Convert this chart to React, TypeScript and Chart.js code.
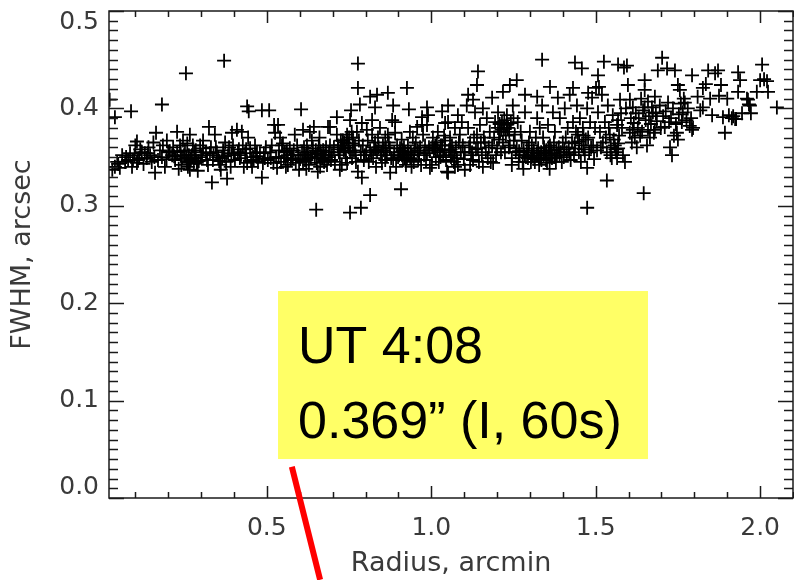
import React, { useEffect, useRef } from 'react';
import { Chart, registerables } from 'chart.js';

Chart.register(...registerables);

// [radius (arcmin), FWHM (arcsec)] pairs, grouped by radius range
const pointsR00: number[][] = [
  [0.022, 0.409], [0.03, 0.337], [0.038, 0.34], [0.038, 0.391], [0.045, 0.345], [0.053, 0.339],
  [0.06, 0.352], [0.069, 0.345], [0.078, 0.347], [0.084, 0.354], [0.087, 0.397], [0.093, 0.347],
  [0.1, 0.362], [0.105, 0.344], [0.105, 0.366], [0.108, 0.347], [0.09, 0.34],
  [0.115, 0.358], [0.12, 0.355], [0.129, 0.354], [0.135, 0.349], [0.14, 0.36], [0.145, 0.352],
  [0.15, 0.345], [0.155, 0.365], [0.16, 0.334], [0.163, 0.375], [0.169, 0.347], [0.175, 0.357],
  [0.181, 0.35], [0.181, 0.404], [0.184, 0.362], [0.19, 0.34], [0.196, 0.367], [0.2, 0.355],
  [0.125, 0.343], [0.195, 0.348],
];
const pointsR02: number[][] = [
  [0.212, 0.352], [0.215, 0.36], [0.221, 0.347], [0.227, 0.355], [0.227, 0.376], [0.232, 0.338],
  [0.236, 0.362], [0.242, 0.349], [0.245, 0.367], [0.251, 0.357], [0.254, 0.436], [0.257, 0.345],
  [0.26, 0.34], [0.263, 0.352], [0.266, 0.337], [0.266, 0.373], [0.272, 0.352], [0.275, 0.362],
  [0.278, 0.343], [0.281, 0.349], [0.284, 0.357], [0.287, 0.344], [0.29, 0.336], [0.297, 0.362],
  [0.3, 0.35], [0.303, 0.352], [0.306, 0.359], [0.306, 0.367], [0.248, 0.352], [0.269, 0.347],
  [0.258, 0.364], [0.24, 0.342],
  [0.318, 0.347], [0.321, 0.342], [0.324, 0.381], [0.327, 0.354], [0.333, 0.324], [0.336, 0.347],
  [0.342, 0.373], [0.345, 0.36], [0.348, 0.355], [0.352, 0.35], [0.358, 0.342], [0.364, 0.349],
  [0.367, 0.357], [0.37, 0.449], [0.373, 0.365], [0.376, 0.345], [0.379, 0.328], [0.382, 0.352],
  [0.385, 0.36], [0.39, 0.34], [0.394, 0.375], [0.397, 0.362], [0.4, 0.352], [0.403, 0.347],
  [0.33, 0.36], [0.36, 0.337],
];
const pointsR04: number[][] = [
  [0.409, 0.378], [0.412, 0.355], [0.418, 0.349], [0.424, 0.376], [0.427, 0.362], [0.434, 0.354],
  [0.44, 0.344], [0.44, 0.402], [0.443, 0.37], [0.445, 0.397], [0.449, 0.359], [0.455, 0.34],
  [0.458, 0.35], [0.464, 0.362], [0.47, 0.355], [0.473, 0.345], [0.479, 0.354], [0.485, 0.329],
  [0.485, 0.398], [0.488, 0.344], [0.494, 0.349], [0.497, 0.36], [0.43, 0.34], [0.46, 0.347],
  [0.415, 0.358],
  [0.503, 0.347], [0.507, 0.398], [0.51, 0.355], [0.515, 0.362], [0.522, 0.383], [0.525, 0.375],
  [0.528, 0.35], [0.531, 0.339], [0.534, 0.383], [0.537, 0.357], [0.54, 0.37], [0.543, 0.345],
  [0.546, 0.362], [0.549, 0.364], [0.552, 0.349], [0.555, 0.355], [0.558, 0.34], [0.564, 0.352],
  [0.564, 0.342], [0.57, 0.359], [0.573, 0.347], [0.579, 0.349], [0.582, 0.357], [0.585, 0.373],
  [0.588, 0.344], [0.592, 0.362], [0.595, 0.352], [0.598, 0.337], [0.52, 0.344],
];
const pointsR06: number[][] = [
  [0.604, 0.399], [0.607, 0.355], [0.61, 0.378], [0.61, 0.345], [0.613, 0.36], [0.616, 0.347],
  [0.619, 0.352], [0.622, 0.362], [0.625, 0.355], [0.628, 0.342], [0.631, 0.376], [0.634, 0.35],
  [0.637, 0.367], [0.64, 0.359], [0.643, 0.381], [0.646, 0.349], [0.649, 0.357], [0.65, 0.296],
  [0.652, 0.344], [0.655, 0.354], [0.655, 0.335], [0.658, 0.362], [0.662, 0.34], [0.665, 0.352],
  [0.668, 0.349], [0.671, 0.357], [0.674, 0.345], [0.677, 0.352], [0.68, 0.36], [0.683, 0.342],
  [0.686, 0.381], [0.689, 0.355], [0.692, 0.362], [0.692, 0.381], [0.695, 0.347], [0.698, 0.352],
  [0.62, 0.338], [0.66, 0.37],
  [0.704, 0.36], [0.707, 0.345], [0.713, 0.373], [0.713, 0.391], [0.716, 0.362], [0.719, 0.355],
  [0.722, 0.352], [0.722, 0.337], [0.725, 0.367], [0.728, 0.342], [0.731, 0.367], [0.734, 0.357],
  [0.737, 0.359], [0.74, 0.349], [0.744, 0.373], [0.744, 0.344], [0.747, 0.364], [0.75, 0.37],
  [0.753, 0.355], [0.753, 0.388], [0.753, 0.293], [0.756, 0.398], [0.759, 0.349], [0.762, 0.37],
  [0.765, 0.357], [0.768, 0.362], [0.771, 0.345], [0.774, 0.376], [0.777, 0.335], [0.777, 0.446],
  [0.777, 0.421], [0.78, 0.367], [0.783, 0.404], [0.786, 0.298], [0.786, 0.355], [0.789, 0.385],
  [0.789, 0.329], [0.792, 0.362], [0.795, 0.347], [0.798, 0.352], [0.735, 0.365], [0.758, 0.376],
  [0.77, 0.352],
];
const pointsR08: number[][] = [
  [0.804, 0.378], [0.807, 0.367], [0.81, 0.345], [0.814, 0.357], [0.814, 0.412], [0.814, 0.311],
  [0.82, 0.373], [0.82, 0.388], [0.823, 0.349], [0.826, 0.36], [0.829, 0.365], [0.829, 0.401],
  [0.832, 0.34], [0.835, 0.355], [0.835, 0.414], [0.838, 0.37], [0.844, 0.38], [0.847, 0.352],
  [0.85, 0.344], [0.853, 0.362], [0.856, 0.357], [0.86, 0.347], [0.865, 0.352], [0.868, 0.373],
  [0.868, 0.416], [0.871, 0.365], [0.874, 0.359], [0.875, 0.334], [0.878, 0.349], [0.881, 0.388],
  [0.884, 0.347], [0.884, 0.403], [0.887, 0.355], [0.89, 0.375], [0.89, 0.386], [0.893, 0.34],
  [0.896, 0.362], [0.84, 0.36], [0.86, 0.37],
  [0.902, 0.352], [0.905, 0.359], [0.908, 0.317], [0.911, 0.352], [0.914, 0.347], [0.917, 0.36],
  [0.92, 0.355], [0.923, 0.342], [0.926, 0.349], [0.926, 0.421], [0.929, 0.362], [0.932, 0.399],
  [0.935, 0.376], [0.938, 0.355], [0.941, 0.352], [0.944, 0.37], [0.947, 0.345], [0.95, 0.359],
  [0.953, 0.365], [0.957, 0.381], [0.96, 0.347], [0.963, 0.355], [0.966, 0.36], [0.969, 0.342],
  [0.972, 0.383], [0.972, 0.391], [0.975, 0.373], [0.978, 0.352], [0.981, 0.362], [0.984, 0.347],
  [0.987, 0.354], [0.987, 0.383], [0.987, 0.401], [0.99, 0.393], [0.993, 0.36], [0.996, 0.339],
  [0.91, 0.368], [0.94, 0.34],
];
const pointsR10: number[][] = [
  [1.002, 0.342], [1.005, 0.37], [1.008, 0.357], [1.011, 0.359], [1.014, 0.35], [1.017, 0.365],
  [1.02, 0.376], [1.023, 0.345], [1.026, 0.355], [1.029, 0.362], [1.033, 0.362], [1.033, 0.397],
  [1.036, 0.352], [1.039, 0.372], [1.042, 0.367], [1.042, 0.385], [1.045, 0.347], [1.048, 0.335],
  [1.051, 0.386], [1.051, 0.403], [1.051, 0.334], [1.054, 0.357], [1.057, 0.37], [1.06, 0.35],
  [1.063, 0.362], [1.066, 0.355], [1.069, 0.345], [1.072, 0.38], [1.072, 0.34], [1.075, 0.36],
  [1.078, 0.349], [1.081, 0.393], [1.081, 0.342], [1.084, 0.365], [1.087, 0.373], [1.09, 0.355],
  [1.093, 0.386], [1.096, 0.362], [1.099, 0.348], [1.102, 0.355], [1.102, 0.337],
  [1.108, 0.403], [1.112, 0.38], [1.112, 0.414], [1.115, 0.36], [1.118, 0.365], [1.118, 0.342],
  [1.121, 0.352], [1.124, 0.355], [1.127, 0.347], [1.127, 0.409], [1.13, 0.37], [1.133, 0.396],
  [1.136, 0.358], [1.139, 0.373], [1.139, 0.424], [1.142, 0.359], [1.142, 0.438], [1.145, 0.345],
  [1.148, 0.383], [1.151, 0.365], [1.154, 0.352], [1.157, 0.4], [1.157, 0.34], [1.16, 0.37],
  [1.163, 0.365], [1.166, 0.355], [1.169, 0.39], [1.172, 0.349], [1.175, 0.36], [1.178, 0.376],
  [1.181, 0.345], [1.185, 0.362], [1.185, 0.411], [1.188, 0.344], [1.191, 0.37], [1.194, 0.386],
  [1.197, 0.352], [1.2, 0.359],
];
const pointsR12: number[][] = [
  [1.203, 0.396], [1.206, 0.368], [1.209, 0.376], [1.212, 0.355], [1.215, 0.386], [1.218, 0.365],
  [1.218, 0.417], [1.221, 0.38], [1.224, 0.355], [1.227, 0.372], [1.23, 0.393], [1.233, 0.38],
  [1.236, 0.36], [1.239, 0.362], [1.239, 0.424], [1.242, 0.385], [1.245, 0.349], [1.245, 0.342],
  [1.248, 0.403], [1.251, 0.367], [1.254, 0.373], [1.257, 0.355], [1.26, 0.359], [1.26, 0.429],
  [1.263, 0.386], [1.266, 0.345], [1.269, 0.352], [1.272, 0.376], [1.275, 0.367], [1.278, 0.345],
  [1.281, 0.357], [1.285, 0.396], [1.285, 0.414], [1.288, 0.35], [1.291, 0.359], [1.294, 0.349],
  [1.297, 0.365], [1.3, 0.376], [1.28, 0.338], [1.25, 0.39],
  [1.303, 0.345], [1.306, 0.362], [1.309, 0.352], [1.312, 0.357], [1.315, 0.345], [1.318, 0.37],
  [1.322, 0.39], [1.322, 0.412], [1.325, 0.359], [1.328, 0.342], [1.331, 0.349], [1.334, 0.355],
  [1.337, 0.403], [1.337, 0.45], [1.34, 0.37], [1.343, 0.36], [1.346, 0.355], [1.349, 0.347],
  [1.352, 0.344], [1.355, 0.383], [1.358, 0.352], [1.361, 0.362], [1.361, 0.422], [1.364, 0.357],
  [1.367, 0.349], [1.37, 0.396], [1.373, 0.365], [1.376, 0.376], [1.379, 0.345], [1.382, 0.352],
  [1.385, 0.411], [1.388, 0.36], [1.391, 0.39], [1.394, 0.355], [1.397, 0.345], [1.4, 0.365],
  [1.33, 0.38], [1.36, 0.338],
];
const pointsR14: number[][] = [
  [1.403, 0.35], [1.406, 0.4], [1.409, 0.37], [1.412, 0.355], [1.415, 0.38], [1.418, 0.36],
  [1.421, 0.414], [1.424, 0.347], [1.428, 0.365], [1.431, 0.386], [1.431, 0.421], [1.434, 0.352],
  [1.437, 0.359], [1.437, 0.447], [1.44, 0.376], [1.443, 0.403], [1.446, 0.373], [1.449, 0.355],
  [1.452, 0.39], [1.455, 0.345], [1.458, 0.362], [1.458, 0.441], [1.461, 0.38], [1.464, 0.358],
  [1.467, 0.352], [1.47, 0.368], [1.474, 0.4], [1.474, 0.339], [1.474, 0.298], [1.477, 0.37],
  [1.477, 0.416], [1.48, 0.355], [1.483, 0.386], [1.486, 0.36], [1.489, 0.411], [1.492, 0.362],
  [1.495, 0.348], [1.498, 0.38],
  [1.501, 0.421], [1.504, 0.357], [1.507, 0.396], [1.507, 0.434], [1.51, 0.422], [1.513, 0.376],
  [1.516, 0.36], [1.519, 0.414], [1.522, 0.365], [1.525, 0.448], [1.528, 0.386], [1.531, 0.37],
  [1.534, 0.355], [1.534, 0.326], [1.537, 0.403], [1.54, 0.38], [1.543, 0.373], [1.546, 0.36],
  [1.549, 0.349], [1.552, 0.393], [1.555, 0.368], [1.558, 0.362], [1.562, 0.355], [1.565, 0.383],
  [1.565, 0.349], [1.568, 0.445], [1.568, 0.388], [1.568, 0.364], [1.568, 0.359], [1.571, 0.372],
  [1.574, 0.409], [1.577, 0.395], [1.58, 0.38], [1.583, 0.352], [1.586, 0.442], [1.589, 0.345],
  [1.592, 0.4], [1.595, 0.444], [1.598, 0.424],
];
const pointsR16: number[][] = [
  [1.604, 0.409], [1.604, 0.375], [1.607, 0.39], [1.61, 0.365], [1.613, 0.401], [1.613, 0.378],
  [1.616, 0.385], [1.619, 0.37], [1.622, 0.395], [1.625, 0.36], [1.628, 0.38], [1.631, 0.39],
  [1.635, 0.372], [1.638, 0.41], [1.641, 0.376], [1.644, 0.398], [1.646, 0.313], [1.649, 0.429],
  [1.649, 0.419], [1.649, 0.401], [1.652, 0.388], [1.656, 0.362], [1.659, 0.407], [1.659, 0.378],
  [1.662, 0.392], [1.665, 0.37], [1.668, 0.384], [1.671, 0.401], [1.674, 0.396], [1.677, 0.375],
  [1.68, 0.412], [1.68, 0.378], [1.683, 0.395], [1.686, 0.387], [1.689, 0.439], [1.695, 0.403],
  [1.698, 0.38],
  [1.702, 0.452], [1.705, 0.392], [1.71, 0.381], [1.713, 0.397], [1.717, 0.441], [1.72, 0.406],
  [1.723, 0.386], [1.726, 0.36], [1.729, 0.39], [1.732, 0.352], [1.735, 0.4], [1.738, 0.372],
  [1.741, 0.439], [1.744, 0.384], [1.747, 0.375], [1.75, 0.424], [1.75, 0.368], [1.753, 0.394],
  [1.756, 0.419], [1.759, 0.405], [1.762, 0.386], [1.765, 0.396], [1.768, 0.41], [1.771, 0.406],
  [1.776, 0.388], [1.78, 0.4], [1.786, 0.382], [1.79, 0.39], [1.793, 0.434], [1.793, 0.378],
  [1.796, 0.38],
];
const pointsR18: number[][] = [
  [1.81, 0.412], [1.818, 0.398], [1.826, 0.421], [1.826, 0.401], [1.835, 0.425], [1.842, 0.439],
  [1.848, 0.41], [1.854, 0.393], [1.863, 0.436], [1.872, 0.439], [1.875, 0.413], [1.881, 0.424],
  [1.887, 0.391], [1.893, 0.375], [1.9, 0.41], [1.905, 0.393], [1.914, 0.39], [1.918, 0.392],
  [1.924, 0.389], [1.927, 0.389], [1.933, 0.437], [1.933, 0.417], [1.939, 0.429], [1.945, 0.395],
  [1.96, 0.41], [1.963, 0.409], [1.966, 0.404], [1.969, 0.403], [1.972, 0.395], [1.99, 0.417],
  [2.0, 0.429], [2.006, 0.445], [2.012, 0.43], [2.021, 0.428], [2.024, 0.417], [2.051, 0.401],
];
// extra stars in the densest clumps of the band
const pointsDense: number[][] = [
  [0.048, 0.343], [0.072, 0.35], [0.098, 0.352], [0.112, 0.349], [0.138, 0.354], [0.158, 0.35],
  [0.205, 0.356], [0.218, 0.351], [0.238, 0.356], [0.256, 0.35], [0.262, 0.344], [0.279, 0.355],
  [0.293, 0.346], [0.315, 0.355], [0.338, 0.352], [0.355, 0.346], [0.371, 0.351], [0.392, 0.354],
  [0.421, 0.352], [0.437, 0.358], [0.452, 0.346], [0.467, 0.351], [0.491, 0.354], [0.512, 0.349],
  [0.536, 0.35], [0.561, 0.356], [0.576, 0.352], [0.601, 0.348], [0.614, 0.352], [0.627, 0.349],
  [0.639, 0.353], [0.651, 0.35], [0.663, 0.356], [0.676, 0.347], [0.688, 0.35], [0.717, 0.358],
  [0.727, 0.362], [0.739, 0.355], [0.749, 0.36], [0.761, 0.364], [0.742, 0.368], [0.802, 0.355],
  [0.818, 0.352], [0.831, 0.358], [0.849, 0.355], [0.862, 0.36], [0.899, 0.35], [0.906, 0.355],
  [0.913, 0.357], [0.919, 0.35], [0.93, 0.353], [0.936, 0.349], [0.948, 0.352], [0.958, 0.357],
  [0.995, 0.357], [1.003, 0.36], [1.012, 0.362], [1.019, 0.357], [1.028, 0.35], [1.041, 0.358],
  [1.059, 0.358], [1.071, 0.352], [1.203, 0.38], [1.208, 0.384], [1.214, 0.378], [1.222, 0.388],
  [1.229, 0.383], [1.237, 0.376], [1.267, 0.356], [1.283, 0.352], [1.296, 0.355], [1.305, 0.35],
  [1.313, 0.348], [1.321, 0.354], [1.327, 0.35], [1.335, 0.347], [1.342, 0.352], [1.35, 0.357],
  [1.357, 0.36], [1.366, 0.354], [1.374, 0.35], [1.381, 0.358], [1.39, 0.352], [1.405, 0.358],
  [1.42, 0.353], [1.436, 0.364], [1.45, 0.366], [1.463, 0.372], [1.545, 0.352], [1.56, 0.358],
];

const xTickLabels = [0.5, 1.0, 1.5, 2.0];
const yTickLabels = [0.0, 0.1, 0.2, 0.3, 0.4, 0.5];
const xAxisTitle = 'Radius, arcmin';
const yAxisTitle = 'FWHM, arcsec';
const noteLines = ['UT 4:08', '0.369\u201D (I, 60s)'];

// annotation geometry in data units
const noteBox = { x0: 0.534, x1: 1.659, y0: 0.2125, y1: 0.04 };
const pointer = { x0: 0.576, y0: 0.032, x1: 0.662, y1: -0.084 };

const allPoints = [
  ...pointsR00, ...pointsR02, ...pointsR04, ...pointsR06, ...pointsR08,
  ...pointsR10, ...pointsR12, ...pointsR14, ...pointsR16, ...pointsR18, ...pointsDense,
];

const INK = '#1a1a1a';
const LABEL = '#3a3a3a';

const framePlugin = {
  id: 'idlFrame',
  afterDatasetsDraw(chart: any) {
    const { ctx, chartArea: a, scales } = chart;
    const x = scales.x;
    const y = scales.y;
    ctx.save();
    ctx.strokeStyle = INK;
    ctx.lineWidth = 1.5;
    ctx.strokeRect(a.left, a.top, a.right - a.left, a.bottom - a.top);
    ctx.beginPath();
    for (let k = 0; k <= 50; k++) {
      const py = Math.round(y.getPixelForValue(k / 100)) + 0.5;
      const len = k % 10 === 0 ? 15 : 9;
      ctx.moveTo(a.left, py); ctx.lineTo(a.left + len, py);
      ctx.moveTo(a.right, py); ctx.lineTo(a.right - len, py);
    }
    for (let k = 1; k <= 21; k++) {
      const v = k / 10;
      if (v < x.min || v > x.max) continue;
      const px = Math.round(x.getPixelForValue(v)) + 0.5;
      const len = k % 5 === 0 ? 12 : 6;
      ctx.moveTo(px, a.bottom); ctx.lineTo(px, a.bottom - len);
      ctx.moveTo(px, a.top); ctx.lineTo(px, a.top + len);
    }
    ctx.stroke();
    ctx.restore();
  },
  afterDraw(chart: any) {
    const { ctx, scales } = chart;
    const x = scales.x;
    const y = scales.y;
    const bx0 = x.getPixelForValue(noteBox.x0);
    const bx1 = x.getPixelForValue(noteBox.x1);
    const by0 = y.getPixelForValue(noteBox.y0);
    const by1 = y.getPixelForValue(noteBox.y1);
    ctx.save();
    ctx.fillStyle = '#ffff66';
    ctx.fillRect(bx0, by0, bx1 - bx0, by1 - by0);
    ctx.fillStyle = '#000000';
    ctx.font = '52px "Liberation Sans", Arial, sans-serif';
    ctx.textBaseline = 'alphabetic';
    ctx.textAlign = 'left';
    ctx.fillText(noteLines[0], bx0 + 20, by0 + 72);
    ctx.fillText(noteLines[1], bx0 + 20, by0 + 147);
    ctx.strokeStyle = '#ff0000';
    ctx.lineWidth = 6;
    ctx.beginPath();
    ctx.moveTo(x.getPixelForValue(pointer.x0), y.getPixelForValue(pointer.y0));
    ctx.lineTo(x.getPixelForValue(pointer.x1), y.getPixelForValue(pointer.y1));
    ctx.stroke();
    ctx.restore();
  },
};

export default function App() {
  const canvasRef = useRef<HTMLCanvasElement | null>(null);

  useEffect(() => {
    document.body.style.margin = '0';
    const canvas = canvasRef.current;
    if (!canvas) return;
    const chart = new Chart(canvas, {
      type: 'scatter',
      data: {
        datasets: [
          {
            data: allPoints.map((p) => ({ x: p[0], y: p[1] })),
            pointStyle: 'cross',
            pointRadius: 7,
            pointHoverRadius: 7,
            borderColor: '#000000',
            backgroundColor: '#000000',
            borderWidth: 1.8,
            showLine: false,
          },
        ],
      },
      options: {
        animation: false,
        responsive: false,
        maintainAspectRatio: false,
        devicePixelRatio: 1,
        layout: { autoPadding: false, padding: { top: 11, right: 1, left: 0, bottom: 0 } },
        plugins: { legend: { display: false }, tooltip: { enabled: false } },
        scales: {
          x: {
            type: 'linear',
            min: 0.02,
            max: 2.1,
            grid: { display: false, drawTicks: false },
            border: { display: false },
            afterBuildTicks: (s: any) => {
              s.ticks = xTickLabels.map((v) => ({ value: v }));
            },
            afterFit: (s: any) => {
              s.height = 82;
              s.paddingLeft = 0;
              s.paddingRight = 0;
            },
            ticks: {
              autoSkip: false,
              maxRotation: 0,
              padding: 15,
              color: LABEL,
              font: { family: '"DejaVu Sans", sans-serif', size: 25 },
              callback: (v: any) => Number(v).toFixed(1),
            },
            title: {
              display: true,
              text: xAxisTitle,
              color: LABEL,
              font: { family: '"DejaVu Sans", sans-serif', size: 27 },
              padding: { top: 0, bottom: 0 },
            },
          },
          y: {
            type: 'linear',
            min: 0,
            max: 0.5,
            grid: { display: false, drawTicks: false },
            border: { display: false },
            afterBuildTicks: (s: any) => {
              s.ticks = yTickLabels.map((v) => ({ value: v }));
            },
            afterFit: (s: any) => {
              s.width = 109;
              s.paddingTop = 0;
              s.paddingBottom = 0;
            },
            ticks: {
              autoSkip: false,
              padding: 10,
              color: LABEL,
              font: { family: '"DejaVu Sans", sans-serif', size: 25, lineHeight: 0.88 },
              callback: (v: any) => {
                const t = Number(v).toFixed(1);
                if (Number(v) <= yTickLabels[0]) return [t, ''];
                if (Number(v) >= yTickLabels[yTickLabels.length - 1]) return ['', t];
                return t;
              },
            },
            title: {
              display: true,
              text: yAxisTitle,
              color: LABEL,
              font: { family: '"DejaVu Sans", sans-serif', size: 27 },
              padding: { top: 7, bottom: 0 },
            },
          },
        },
      },
      plugins: [framePlugin],
    });
    return () => chart.destroy();
  }, []);

  return (
    <div style={{ width: 794, height: 580 }}>
      <canvas ref={canvasRef} width={794} height={580} style={{ display: 'block' }} />
    </div>
  );
}
